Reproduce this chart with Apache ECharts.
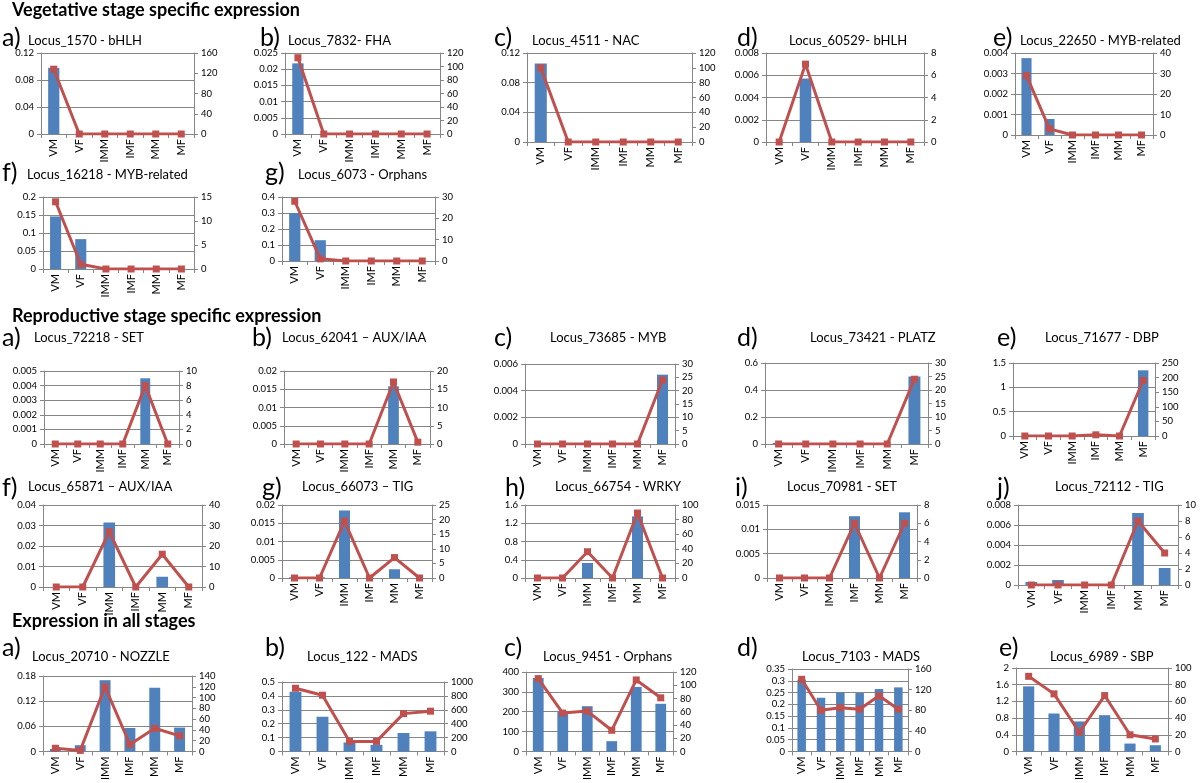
<!DOCTYPE html>
<html><head><meta charset="utf-8">
<script src="https://cdn.jsdelivr.net/npm/echarts@6/dist/echarts.min.js"></script>
<style>html,body{margin:0;padding:0;background:#fff}#c{width:1200px;height:783px}</style>
</head><body><div id="c"></div>
<script>
// ---------------- DATA ----------------
const categories = ['VM', 'VF', 'IMM', 'IMF', 'MM', 'MF'];
const headings = ['Vegetative stage specific expression', 'Reproductive stage specific expression', 'Expression in all stages'];

const vegLetters = ['a)', 'b)', 'c)', 'd)', 'e)', 'f)', 'g)'];
const vegTitles = ['Locus_1570 - bHLH', 'Locus_7832- FHA', 'Locus_4511 - NAC', 'Locus_60529- bHLH', 'Locus_22650 - MYB-related', 'Locus_16218 - MYB-related', 'Locus_6073 - Orphans'];
const vegBars = [
  [0.098, 0, 0, 0, 0, 0],
  [0.0218, 0, 0, 0, 0, 0],
  [0.106, 0, 0, 0, 0, 0],
  [0, 0.0057, 0, 0, 0, 0],
  [0.00375, 0.00078, 0, 0, 0, 0],
  [0.146, 0.083, 0, 0, 0, 0],
  [0.30, 0.13, 0, 0, 0, 0]
];
const vegLines = [
  [128, 0, 0, 0, 0, 0],
  [113, 0, 0, 0, 0, 0],
  [100, 0, 0, 0, 0, 0],
  [0, 7, 0, 0, 0, 0],
  [29, 3, 0, 0, 0, 0],
  [14, 1, 0, 0, 0, 0],
  [28, 1, 0, 0, 0, 0]
];
const vegLeftAxis = [[0.12, 0.04], [0.025, 0.005], [0.12, 0.04], [0.008, 0.002], [0.004, 0.001], [0.2, 0.05], [0.4, 0.1]];
const vegRightAxis = [[160, 40], [120, 20], [120, 20], [8, 2], [40, 10], [15, 5], [30, 10]];

const repLetters = ['a)', 'b)', 'c)', 'd)', 'e)', 'f)', 'g)', 'h)', 'i)', 'j)'];
const repTitles = ['Locus_72218 - SET', 'Locus_62041 \u2013 AUX/IAA', 'Locus_73685 - MYB', 'Locus_73421 - PLATZ', 'Locus_71677 - DBP', 'Locus_65871 \u2013 AUX/IAA', 'Locus_66073 \u2013 TIG', 'Locus_66754 - WRKY', 'Locus_70981 - SET', 'Locus_72112 - TIG'];
const repBars = [
  [0, 0, 0, 0, 0.0045, 0],
  [0, 0, 0, 0, 0.0158, 0],
  [0, 0, 0, 0, 0, 0.0052],
  [0.008, 0, 0, 0, 0, 0.5],
  [0, 0, 0, 0.02, 0, 1.35],
  [0, 0, 0.0315, 0, 0.005, 0],
  [0.0002, 0.0002, 0.0185, 0, 0.0024, 0],
  [0, 0, 0.33, 0, 1.35, 0],
  [0, 0, 0, 0.0127, 0, 0.0135],
  [0.0003, 0.0005, 0.0001, 0, 0.0072, 0.0017]
];
const repLines = [
  [0, 0, 0, 0, 8, 0],
  [0, 0, 0, 0, 17, 0.5],
  [0, 0, 0, 0, 0, 24],
  [0, 0, 0, 0, 0, 24],
  [0, 0, 0, 4, 0, 190],
  [0, 0, 27, 0, 16, 0],
  [0, 0, 19.5, 0, 7, 0],
  [0, 0, 36, 0, 89, 0],
  [0, 0, 0, 6, 0, 6],
  [0, 0, 0, 0, 8, 4]
];
const repLeftAxis = [[0.005, 0.001], [0.02, 0.005], [0.006, 0.002], [0.6, 0.2], [1.5, 0.5], [0.04, 0.01], [0.02, 0.005], [1.6, 0.4], [0.015, 0.005], [0.008, 0.002]];
const repRightAxis = [[10, 2], [20, 5], [30, 5], [30, 5], [250, 50], [40, 10], [25, 5], [100, 20], [8, 2], [10, 2]];

const allLetters = ['a)', 'b)', 'c)', 'd)', 'e)'];
const allTitles = ['Locus_20710 - NOZZLE', 'Locus_122 - MADS', 'Locus_9451 - Orphans', 'Locus_7103 - MADS', 'Locus_6989 - SBP'];
const allBars = [
  [0.006, 0.015, 0.17, 0.056, 0.152, 0.057],
  [0.43, 0.25, 0.065, 0.048, 0.133, 0.145],
  [370, 200, 228, 52, 325, 240],
  [0.305, 0.228, 0.25, 0.248, 0.265, 0.272],
  [1.56, 0.91, 0.72, 0.87, 0.19, 0.15]
];
const allLines = [
  [6, 2, 120, 13, 43, 29],
  [910, 810, 145, 145, 545, 580],
  [110, 58, 61, 32, 108, 81],
  [140, 80, 85, 82, 108, 82],
  [90, 69, 23, 67, 20, 15]
];
const allLeftAxis = [[0.18, 0.06], [0.5, 0.1], [400, 100], [0.35, 0.05], [2, 0.4]];
const allRightAxis = [[140, 20], [1000, 200], [120, 20], [160, 40], [100, 20]];

// ---------------- LAYOUT (px) ----------------
// letter [x, top], title [x, top], grid [x1, y1, x2, y2]
const headingPos = [[12, 1], [12, 307], [12, 612]];
const vegLayout = [
  {L: [0, 25], T: [28, 34], G: [41, 53, 194, 134]},
  {L: [258, 25], T: [288, 34], G: [285, 53, 440, 134]},
  {L: [492, 25], T: [532, 34], G: [527, 53, 692, 142]},
  {L: [735, 25], T: [789, 34], G: [766, 53, 924, 142]},
  {L: [991, 25], T: [1020, 34], G: [1015, 53, 1153, 135]},
  {L: [0, 160], T: [27, 168], G: [43, 197, 194, 269]},
  {L: [263, 160], T: [298, 168], G: [282, 197, 435, 261]}
];
const repLayout = [
  {L: [0, 325], T: [34, 331], G: [44, 371, 179, 444]},
  {L: [250, 325], T: [282, 331], G: [284, 371, 430, 444]},
  {L: [492, 325], T: [550, 331], G: [525, 364, 675, 444]},
  {L: [735, 325], T: [810, 331], G: [765, 363, 928, 444]},
  {L: [995, 325], T: [1045, 331], G: [1013, 363, 1155, 436]},
  {L: [0, 475], T: [28, 480], G: [43, 505, 202, 587]},
  {L: [260, 475], T: [302, 480], G: [282, 505, 432, 578]},
  {L: [503, 475], T: [555, 480], G: [525, 505, 675, 578]},
  {L: [733, 475], T: [787, 480], G: [767, 505, 917, 578]},
  {L: [995, 475], T: [1055, 480], G: [1018, 505, 1178, 585]}
];
const allLayout = [
  {L: [0, 635], T: [32, 650], G: [43, 676, 192, 752]},
  {L: [263, 635], T: [307, 650], G: [282, 682, 444, 754]},
  {L: [502, 635], T: [543, 650], G: [526, 672, 673, 754]},
  {L: [735, 635], T: [802, 650], G: [792, 669, 908, 754]},
  {L: [997, 635], T: [1050, 650], G: [1016, 668, 1168, 754]}
];

// ---------------- BUILD ----------------
const FONT = 'Lato, "Open Sans", sans-serif';
const AX = '#868686';
const BAR = '#4F81BD';
const LINE = '#C0504D';
const fmt = v => String(parseFloat(Number(v).toPrecision(10)));

const option = {animation: false, backgroundColor: '#fff', title: [], grid: [], xAxis: [], yAxis: [], series: []};

headings.forEach((h, i) => {
  option.title.push({text: h, left: headingPos[i][0], top: headingPos[i][1], padding: 0,
    textStyle: {fontFamily: FONT, fontSize: 18, fontWeight: 'bold', color: '#000'}});
});

function addGroup(letters, titles, bars, lines, leftAx, rightAx, layout) {
  letters.forEach((letter, i) => {
    const lay = layout[i];
    const gi = option.grid.length;
    option.title.push({text: letter, left: lay.L[0] + 2, top: lay.L[1], padding: 0,
      textStyle: {fontFamily: FONT, fontSize: 25, fontWeight: 'normal', color: '#000'}});
    option.title.push({text: titles[i], left: lay.T[0], top: lay.T[1], padding: 0,
      textStyle: {fontFamily: FONT, fontSize: 13, fontWeight: 'normal', color: '#000'}});
    const [x1, y1, x2, y2] = lay.G;
    option.grid.push({left: x1, top: y1, width: x2 - x1, height: y2 - y1});
    option.xAxis.push({type: 'category', gridIndex: gi, data: categories,
      axisLine: {lineStyle: {color: AX}}, axisTick: {show: true, length: 4, lineStyle: {color: AX}},
      axisLabel: {rotate: 90, fontFamily: FONT, fontSize: 11, color: '#000', margin: 5}});
    option.yAxis.push({type: 'value', gridIndex: gi, position: 'left', min: 0, max: leftAx[i][0], interval: leftAx[i][1],
      axisLine: {show: true, lineStyle: {color: AX}}, axisTick: {show: true, length: 4, lineStyle: {color: AX}},
      splitLine: {show: true, lineStyle: {color: AX, width: 1}},
      axisLabel: {fontFamily: FONT, fontSize: 9.5, color: '#000', margin: 7, formatter: fmt}});
    option.yAxis.push({type: 'value', gridIndex: gi, position: 'right', min: 0, max: rightAx[i][0], interval: rightAx[i][1],
      axisLine: {show: true, lineStyle: {color: AX}}, axisTick: {show: true, length: 4, lineStyle: {color: AX}},
      splitLine: {show: false},
      axisLabel: {fontFamily: FONT, fontSize: 9.5, color: '#000', margin: 7, formatter: fmt}});
    option.series.push({type: 'bar', xAxisIndex: gi, yAxisIndex: 2 * gi, data: bars[i],
      barCategoryGap: '56%', itemStyle: {color: BAR}, silent: true});
    option.series.push({type: 'line', xAxisIndex: gi, yAxisIndex: 2 * gi + 1, data: lines[i],
      symbol: 'rect', symbolSize: 7, showAllSymbol: true,
      lineStyle: {color: LINE, width: 3}, itemStyle: {color: LINE}, silent: true, z: 3});
  });
}

addGroup(vegLetters, vegTitles, vegBars, vegLines, vegLeftAxis, vegRightAxis, vegLayout);
addGroup(repLetters, repTitles, repBars, repLines, repLeftAxis, repRightAxis, repLayout);
addGroup(allLetters, allTitles, allBars, allLines, allLeftAxis, allRightAxis, allLayout);

const chart = echarts.init(document.getElementById('c'), null, {renderer: 'canvas'});
chart.setOption(option);
</script>
</body></html>
